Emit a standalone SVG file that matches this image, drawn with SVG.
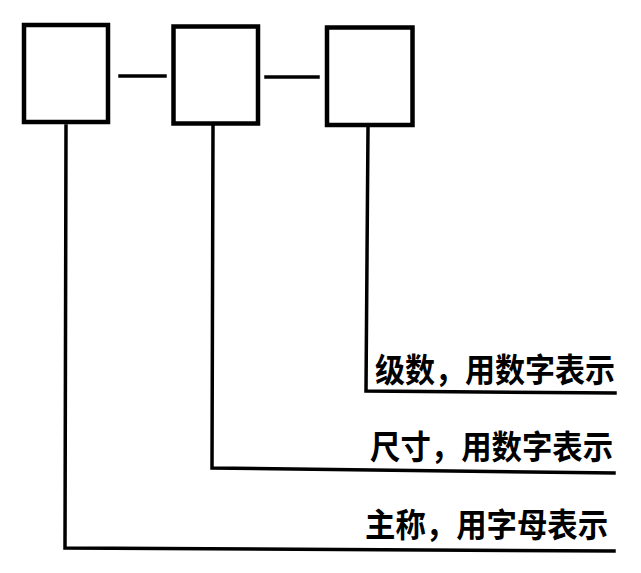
<svg xmlns="http://www.w3.org/2000/svg" width="641" height="573" viewBox="0 0 641 573">
<style>
.box{fill:#fff;stroke:#000;stroke-width:4.5}
.ln{fill:none;stroke:#000;stroke-width:3.5;stroke-linecap:square}
.lbl{font-family:"Noto Sans CJK SC","Noto Sans",sans-serif;font-size:33px;font-weight:700;fill:#000}
</style>
<rect width="641" height="573" fill="#fff"/>
<g id="connectors">
<line class="ln" x1="120" y1="76" x2="165" y2="76"/>
<line class="ln" x1="266" y1="77" x2="318" y2="77"/>
<polyline class="ln" points="66,126 65,548 614,551"/>
<polyline class="ln" points="213,126 212,468 614,473"/>
<polyline class="ln" points="368,128 366,391 615,393"/>
</g>
<g id="box1"><rect class="box" x="24" y="25" width="84" height="97"/></g>
<g id="box2"><rect class="box" x="173.5" y="26.5" width="84.5" height="97"/></g>
<g id="box3"><rect class="box" x="327" y="27.5" width="85.5" height="97.5"/></g>
<g id="label-level"><text class="lbl" x="375" y="382" textLength="240" lengthAdjust="spacingAndGlyphs">级数，用数字表示</text></g>
<g id="label-size"><text class="lbl" x="370" y="458.5" textLength="243" lengthAdjust="spacingAndGlyphs">尺寸，用数字表示</text></g>
<g id="label-main"><text class="lbl" x="365" y="537" textLength="243" lengthAdjust="spacingAndGlyphs">主称，用字母表示</text></g>
</svg>
